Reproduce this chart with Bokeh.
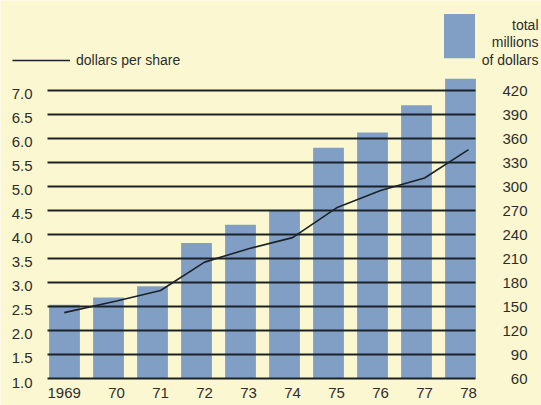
from bokeh.plotting import figure
from bokeh.models import (Range1d, LinearAxis, FixedTicker, BoxAnnotation, Label,
                          Legend, LegendItem, NumeralTickFormatter)
from bokeh.embed import file_html
from bokeh.resources import INLINE

# ---------------- data ----------------
years = ["1969", "70", "71", "72", "73", "74", "75", "76", "77", "78"]
total_millions = [152, 161, 175, 229, 252, 269, 348, 367, 401, 434]
dollars_per_share = [2.37, 2.61, 2.83, 3.42, 3.70, 3.93, 4.55, 4.91, 5.17, 5.76]
dps_ticks = [1.0, 1.5, 2.0, 2.5, 3.0, 3.5, 4.0, 4.5, 5.0, 5.5, 6.0, 6.5, 7.0]
musd_ticks = [60, 90, 120, 150, 180, 210, 240, 270, 300, 330, 360, 390, 420]
line_label = "dollars per share"
bar_label_lines = ["total", "millions", "of dollars"]

# ---------------- layout / style (page pixels) ----------------
W, H = 541, 405
RULE_L, RULE_R = 47, 475      # horizontal extent of the rules
RULE_B, RULE_T = 378, 89.5    # rows of the 1.0 and 7.0 rules
FIRST_CENTER_PX = 64.0        # centre of the first bar
PITCH_PX = 44.0               # distance between bar centres
BAR_W = 0.70
TICK_FS = 15
DIGIT_PX = 0.556 * TICK_FS
LEFT_LABEL_DROP_PX = 4        # printed left numbers sit a little under their rules
BG = "#fbf8d1"
BAR_C = "#819fc5"
INK = "#1c2326"
TEXT_C = "#2d2d2d"
FONT = "Liberation Sans"

px_per_unit = (RULE_B - RULE_T) / (dps_ticks[-1] - dps_ticks[0])
ratio = musd_ticks[0] / dps_ticks[0]


def xdat(px):
    return (px - FIRST_CENTER_PX) / PITCH_PX


y_lo = dps_ticks[0] - (H - RULE_B) / px_per_unit
y_hi = dps_ticks[0] + RULE_B / px_per_unit
drop = LEFT_LABEL_DROP_PX / px_per_unit

idx = list(range(len(years)))
# year labels sit flush with the right edge of their bar; the line is drawn at them
label_x = [round(i + BAR_W / 2 + (1 - len(t) * DIGIT_PX / 2) / PITCH_PX, 4)
           for i, t in zip(idx, years)]

p = figure(frame_width=W, frame_height=H,
           x_range=Range1d(xdat(0), xdat(W)), y_range=Range1d(y_lo, y_hi),
           x_axis_type=None, y_axis_type=None,
           toolbar_location=None, output_backend="svg", min_border=0,
           background_fill_color=BG, border_fill_color=BG, outline_line_color=None)
p.extra_y_ranges = {"musd": Range1d(y_lo * ratio, y_hi * ratio),
                    "dps_lbl": Range1d(y_lo + drop, y_hi + drop)}

p.vbar(x=idx, width=BAR_W, bottom=musd_ticks[0], top=total_millions,
       y_range_name="musd", fill_color=BAR_C, line_color=None)

line_r = p.line(x=label_x, y=dollars_per_share, line_color=INK, line_width=1.6)

label_style = dict(axis_line_color=None, minor_tick_line_color=None,
                   major_label_text_font=FONT, major_label_text_font_size=f"{TICK_FS}px",
                   major_label_text_color=TEXT_C)

# right scale: its long inward ticks are the rules across the chart
right = LinearAxis(y_range_name="musd", ticker=FixedTicker(ticks=musd_ticks),
                   fixed_location=xdat(RULE_R),
                   major_tick_in=RULE_R - RULE_L, major_tick_out=0,
                   major_tick_line_color=INK, major_tick_line_width=2,
                   major_label_overrides={t: ("\u2007" + str(t) if t < 100 else str(t))
                                          for t in musd_ticks},
                   major_label_standoff=27, **label_style)
p.add_layout(right, "right")

left = LinearAxis(y_range_name="dps_lbl", ticker=FixedTicker(ticks=dps_ticks),
                  fixed_location=xdat(RULE_L),
                  formatter=NumeralTickFormatter(format="0.0"),
                  major_tick_line_color=None, major_tick_in=0, major_tick_out=0,
                  major_label_standoff=15, **label_style)
p.add_layout(left, "left")

bottom = LinearAxis(ticker=FixedTicker(ticks=label_x), fixed_location=dps_ticks[0],
                    major_label_overrides={x: t for x, t in zip(label_x, years)},
                    major_tick_line_color=None, major_tick_in=0, major_tick_out=0,
                    major_label_standoff=9, **label_style)
p.add_layout(bottom, "below")

# key for the line
legend = Legend(items=[LegendItem(label=line_label, renderers=[line_r])],
                location=(12, H - 68.3),
                padding=0, margin=0, spacing=0,
                glyph_width=58, glyph_height=16, label_height=16, label_width=10,
                label_standoff=6, label_text_font=FONT, label_text_font_size="14px",
                label_text_color=TEXT_C, label_text_baseline="alphabetic",
                border_line_alpha=0, background_fill_alpha=0)
p.add_layout(legend, "center")

# key for the bars
p.add_layout(BoxAnnotation(left=443.5, right=474.5, top=H - 13.5, bottom=H - 57.7,
                           left_units="screen", right_units="screen",
                           top_units="screen", bottom_units="screen",
                           fill_color=BAR_C, fill_alpha=1.0, line_color=None))
for txt, base in zip(bar_label_lines, [24.0, 41.5, 59.0]):
    p.add_layout(Label(x=538, y=H - base, x_units="screen", y_units="screen",
                       text=txt, text_align="right", text_baseline="alphabetic",
                       text_font=FONT, text_font_size="14px", text_color=TEXT_C))

open("out.html", "w").write(file_html(p, INLINE))
